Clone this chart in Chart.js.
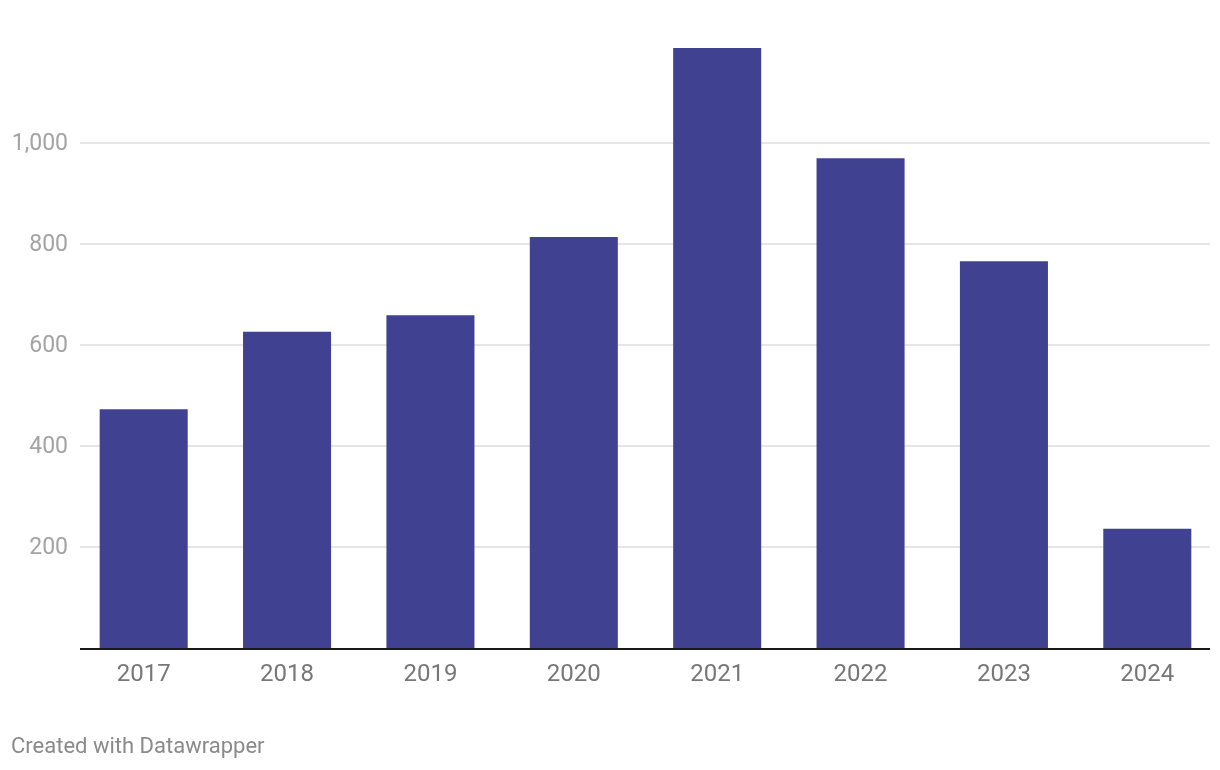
<!DOCTYPE html>
<html>
<head>
<meta charset="utf-8">
<script src="https://cdn.jsdelivr.net/npm/chart.js@4/dist/chart.umd.min.js"></script>
<style>
  html, body { margin: 0; padding: 0; background: #fff; }
  #wrap { position: relative; width: 1220px; height: 770px; }
  #c { position: absolute; left: 0; top: 0; }
  #footer { position: absolute; left: 11px; top: 733px; font-family: Roboto, sans-serif; font-size: 22px; line-height: 26px; color: #8a8a8a; }
</style>
</head>
<body>
<div id="wrap">
  <canvas id="c" width="1220" height="770"></canvas>
  <div id="footer">Created with Datawrapper</div>
</div>
<script>
const categories = ['2017', '2018', '2019', '2020', '2021', '2022', '2023', '2024'];
const values = [473, 626, 659, 814, 1188, 970, 766, 236];
const yTicks = [200, 400, 600, 800, 1000];
const yTickLabels = ['200', '400', '600', '800', '1,000'];

const overlay = {
  id: 'overlay',
  beforeDatasetsDraw(chart) {
    const ctx = chart.ctx;
    const y = chart.scales.y;
    ctx.save();
    ctx.strokeStyle = '#e5e5e5';
    ctx.lineWidth = 2;
    yTicks.forEach(v => {
      const py = Math.round(y.getPixelForValue(v));
      ctx.beginPath();
      ctx.moveTo(80, py);
      ctx.lineTo(1210, py);
      ctx.stroke();
    });
    ctx.fillStyle = '#a3a3a3';
    ctx.font = '23px Roboto, sans-serif';
    ctx.textAlign = 'right';
    ctx.textBaseline = 'middle';
    yTicks.forEach((v, i) => {
      ctx.fillText(yTickLabels[i], 68, y.getPixelForValue(v) + 1);
    });
    ctx.restore();
  },
  afterDatasetsDraw(chart) {
    const ctx = chart.ctx;
    const x = chart.scales.x;
    const y = chart.scales.y;
    ctx.save();
    const by = y.getPixelForValue(0);
    ctx.fillStyle = '#1a1a1a';
    ctx.fillRect(80, by, 1130, 2);
    ctx.fillStyle = '#777777';
    ctx.font = '24px Roboto, sans-serif';
    ctx.textAlign = 'center';
    ctx.textBaseline = 'middle';
    categories.forEach((c, i) => {
      ctx.fillText(c, x.getPixelForValue(i), by + 27);
    });
    ctx.restore();
  }
};

new Chart(document.getElementById('c'), {
  type: 'bar',
  data: {
    labels: categories,
    datasets: [{
      data: values,
      backgroundColor: '#404190',
      borderWidth: 0,
      barPercentage: 0.614,
      categoryPercentage: 1.0
    }]
  },
  options: {
    responsive: false,
    animation: false,
    layout: { padding: { left: 72, right: 1, top: 42, bottom: 122 } },
    plugins: { legend: { display: false }, tooltip: { enabled: false } },
    scales: {
      x: { display: false, offset: true },
      y: { display: false, min: 0, max: 1200 }
    }
  },
  plugins: [overlay]
});
</script>
</body>
</html>
